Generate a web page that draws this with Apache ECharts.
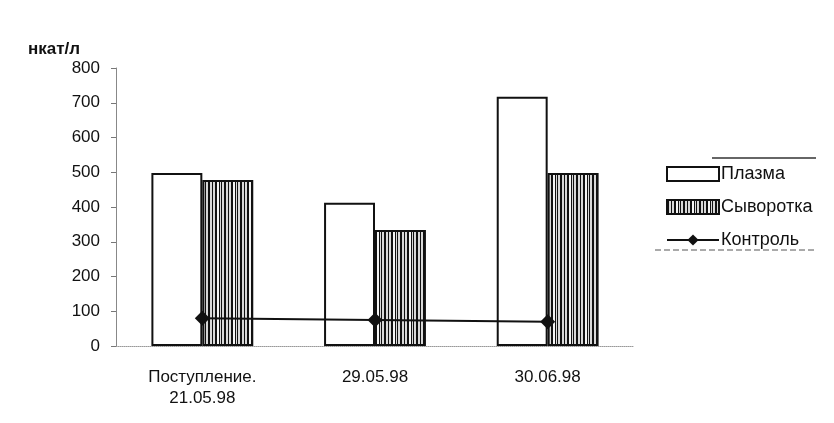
<!DOCTYPE html>
<html><head><meta charset="utf-8">
<script src="https://cdn.jsdelivr.net/npm/echarts@6/dist/echarts.min.js"></script>
<style>html,body{margin:0;padding:0;background:#fff}#c{width:834px;height:423px}</style>
</head><body><div id="c"></div>
<script>
const categories = ['Поступление.\n21.05.98', '29.05.98', '30.06.98'];
const plasma = [498, 412, 717];
const serum = [478, 334, 498];
const control = [80, 75, 70];
const yTicks = [0, 100, 200, 300, 400, 500, 600, 700, 800];

function stripes() {
  const c = document.createElement('canvas');
  c.width = 16; c.height = 8;
  const g = c.getContext('2d');
  g.fillStyle = '#d8d8d8'; g.fillRect(0, 0, 16, 8);
  g.fillStyle = '#111';
  g.fillRect(0, 0, 2, 8); g.fillRect(4, 0, 1, 8); g.fillRect(7, 0, 2, 8);
  g.fillRect(11, 0, 1, 8); g.fillRect(13, 0, 1, 8);
  g.fillStyle = '#f4f4f4'; g.fillRect(9, 0, 2, 8);
  return c;
}
const pat = { image: stripes(), repeat: 'repeat' };

const chart = echarts.init(document.getElementById('c'));
chart.setOption({
  animation: false,
  textStyle: { fontFamily: 'Liberation Sans, Arial, sans-serif' },
  grid: { left: 116, right: 200, top: 68, bottom: 77 },
  legend: {
    orient: 'vertical', left: 661, top: 160, itemWidth: 52, itemHeight: 14, itemGap: 15,
    textStyle: { fontSize: 18, color: '#111', padding: [0, 0, 0, -3] },
    data: [{ name: 'Плазма', icon: 'rect' }, { name: 'Сыворотка', icon: 'rect' }, 'Контроль']
  },
  graphic: [
    { type: 'line', shape: { x1: 712, y1: 158, x2: 816, y2: 158 }, style: { stroke: '#333', lineWidth: 1.5 } },
    { type: 'line', shape: { x1: 655, y1: 250, x2: 816, y2: 250 }, style: { stroke: '#555', lineWidth: 1, lineDash: [6, 3] } }
  ],
  xAxis: {
    type: 'category', data: categories,
    axisLine: { lineStyle: { color: '#999', type: 'dotted', width: 1 } },
    axisTick: { show: false },
    axisLabel: { fontSize: 17, color: '#111', margin: 21, lineHeight: 21 }
  },
  yAxis: {
    type: 'value', min: 0, max: 800, interval: 100,
    name: 'нкат/л', nameGap: 10,
    nameTextStyle: { fontSize: 17, fontWeight: 'bold', color: '#111', align: 'right', padding: [0, 36, 0, 0] },
    axisLine: { show: true, lineStyle: { color: '#888', width: 1 } },
    axisTick: { show: true, length: 5, lineStyle: { color: '#777' } },
    axisLabel: { fontSize: 17, color: '#111', margin: 16, formatter: v => yTicks.includes(v) ? String(v) : '' },
    splitLine: { show: false }
  },
  series: [
    { name: 'Плазма', type: 'bar', data: plasma, barGap: '0%', barCategoryGap: '41%',
      itemStyle: { color: '#fff', borderColor: '#111', borderWidth: 2 } },
    { name: 'Сыворотка', type: 'bar', data: serum,
      itemStyle: { color: pat, borderColor: '#111', borderWidth: 2 } },
    { name: 'Контроль', type: 'line', data: control, symbol: 'diamond', symbolSize: 15,
      lineStyle: { color: '#111', width: 2 }, itemStyle: { color: '#111' }, z: 5 }
  ]
});
</script></body></html>
